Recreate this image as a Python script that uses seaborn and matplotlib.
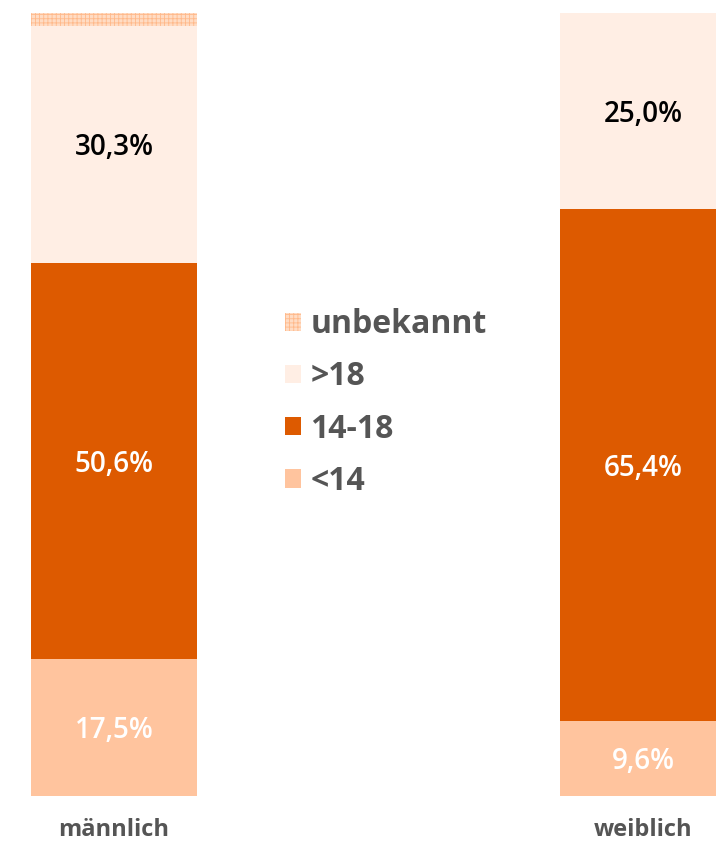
import matplotlib
matplotlib.use("Agg")
import matplotlib.pyplot as plt
import matplotlib.patches as mpatches
import seaborn as sns
import numpy as np

# data (Anteile in %)
geschlecht = ["männlich", "weiblich"]
stufen = ["<14", "14-18", ">18", "unbekannt"]
unter14 = [17.5, 9.6]
von14bis18 = [50.6, 65.4]
ueber18 = [30.3, 25.0]
unbekannt = [1.6, 0.0]

farben = {"<14": "#FFC49E", "14-18": "#DD5A00", ">18": "#FFEEE4", "unbekannt": "#FFDCC4"}
textfarben = {"<14": "white", "14-18": "white", ">18": "black"}

sns.set_theme(style="white")
plt.rcParams["font.family"] = ["Open Sans", "DejaVu Sans"]
plt.rcParams["hatch.linewidth"] = 0.6

fig = plt.figure(figsize=(7.16, 8.44), dpi=100)
ax = fig.add_axes([0, 48 / 844, 1, 783 / 844])

werte = np.array([unter14, von14bis18, ueber18, unbekannt])
kum = werte.cumsum(axis=0)

# stacked bars: draw from the top cumulative sum downwards
breite = 166 / 529
for i in range(len(stufen) - 1, -1, -1):
    stufe = stufen[i]
    kws = dict(linewidth=0)
    if stufe == "unbekannt":
        kws = dict(hatch="++++", edgecolor="#FFB98A", linewidth=0)
    sns.barplot(x=geschlecht, y=kum[i], color=farben[stufe], saturation=1,
                width=breite, ax=ax, **kws)

# value labels
for j in range(len(geschlecht)):
    for i, stufe in enumerate(stufen[:3]):
        mitte = kum[i, j] - werte[i, j] / 2
        txt = f"{werte[i, j]:.1f}%".replace(".", ",")
        ax.text(j, mitte, txt, ha="center", va="center_baseline", fontsize=20,
                color=textfarben[stufe], fontweight="semibold")

ax.set_ylim(0, 100)
ax.set_xlim(-114 / 529, (716 - 114) / 529)
sns.despine(ax=ax, left=True, bottom=True)
ax.set_yticks([])
ax.set_ylabel("")
ax.tick_params(axis="x", length=0, pad=16, labelsize=17, labelcolor="#555555")
for lbl in ax.get_xticklabels():
    lbl.set_fontweight("bold")

handles = [mpatches.Patch(facecolor=farben[s], edgecolor="#FFB98A" if s == "unbekannt" else "none",
                          hatch="++++" if s == "unbekannt" else None, linewidth=0, label=s)
           for s in reversed(stufen)]
leg = fig.legend(handles=handles, loc="center left", bbox_to_anchor=(269 / 716, 1 - 403 / 844),
                 frameon=False, fontsize=23, handlelength=0.5, handleheight=0.5,
                 handletextpad=0.3, labelspacing=0.6, borderpad=0)
for t in leg.get_texts():
    t.set_color("#555555")
    t.set_fontweight("bold")

fig.savefig("out.png", dpi=100)
